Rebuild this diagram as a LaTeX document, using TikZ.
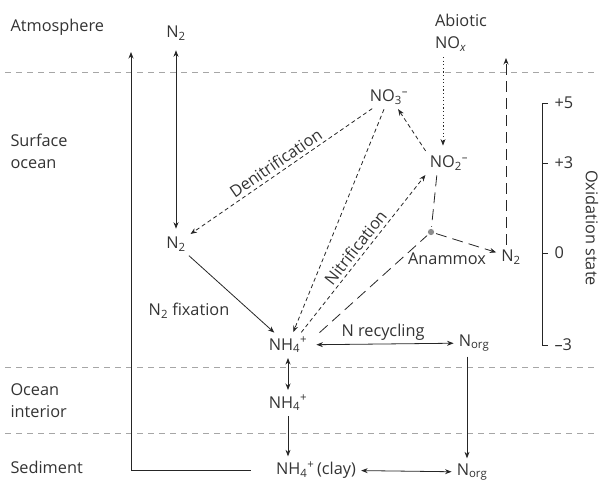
\documentclass[tikz,border=0pt]{standalone}
\usepackage{fontspec}
\setmainfont{Open Sans}
\usetikzlibrary{arrows.meta}
\definecolor{inkgray}{HTML}{333333}
\tikzset{x=1pt, y=-1pt, % one unit is one pixel of the layout, y grows downwards
every node/.style={ % Sets the properties for each text
text=inkgray,
font=\fontsize{16.3}{22}\selectfont},
species/.style={inner sep=3pt}, % chemical species
flux/.style={ % Sets the properties for each solid transfer
draw=black!85,
line width=0.8pt,
>={Stealth[length=6.5pt,width=5pt]},
shorten >=2pt, shorten <=2pt},
shortdash/.style={flux, dash pattern=on 4pt off 3pt},
longdash/.style={flux, dash pattern=on 11pt off 6pt},
dotflux/.style={flux, dash pattern=on 1.2pt off 2.4pt},
layer/.style={draw=black!35, line width=0.7pt, dash pattern=on 6pt off 5pt}}

\begin{document}
\begin{tikzpicture}
    \useasboundingbox (0,0) rectangle (601,483);
    % layer boundaries
    \foreach \y in {72,367,433} \draw[layer] (5,\y) -- (596,\y);
    \node[anchor=west] (atm) at (7,27) {Atmosphere};
    \node[anchor=west, align=left] (surf) at (7,151) {Surface\\ocean};
    \node[anchor=west, align=left] (inter) at (7,401) {Ocean\\interior};
    \node[anchor=west] (sed) at (7,467) {Sediment};
    % species
    \node[species] (n2atm) at (176,33) {N\textsubscript{2}};
    \node[species] (n2) at (176,244) {N\textsubscript{2}};
    \node[species] (nh4) at (288,345) {NH\textsubscript{4}\textsuperscript{+}};
    \node[species] (nh4int) at (288,403) {NH\textsubscript{4}\textsuperscript{+}};
    \node[species] (nh4clay) at (316,470) {NH\textsubscript{4}\textsuperscript{+}\,(clay)};
    \node[species] (norg) at (474,343) {N\textsubscript{org}};
    \node[species] (norgsed) at (472,472) {N\textsubscript{org}};
    \node[species] (no3) at (389,97) {NO\textsubscript{3}\textsuperscript{--}};
    \node[species] (no2) at (449,163) {NO\textsubscript{2}\textsuperscript{--}};
    \node[species] (n2r) at (511,257) {N\textsubscript{2}};
    \node[align=left] (abiotic) at (461,33) {Abiotic\\NO\textsubscript{\itshape x}};
    \node[circle, fill=black!45, inner sep=2.2pt] (amx) at (431,232) {};
    \node (amxlab) at (447,259) {Anammox};
    \node (fixlab) at (189,311) {N\textsubscript{2} fixation};
    \coordinate (atmup) at (131,50);
    \coordinate (n2up) at (506,56);
    % solid transfers
    \draw[flux, <->, shorten <=7pt, shorten >=5pt] (n2atm) -- (n2);
    \draw[flux, ->] (n2) -- (nh4);
    \draw[flux, <->] (nh4) -- (nh4int);
    \draw[flux, ->] (nh4int) -- (nh4int |- nh4clay.north);
    \draw[flux, <->] (nh4clay) -- (norgsed);
    \draw[flux, <->, shorten <=6pt] (nh4) -- node[above] {N recycling} (norg);
    \draw[flux, ->] ([xshift=-7pt]norg.south) -- ([xshift=-5pt]norgsed.north);
    \draw[flux, ->] ([xshift=-20pt]nh4clay.west) -| (atmup);
    % redox transfers
    \draw[shortdash, ->] (no3) -- node[sloped, above] {Denitrification} (n2);
    \draw[shortdash, ->] (no3) -- (nh4);
    \draw[shortdash, ->] ([xshift=12pt]nh4.north) -- node[sloped, above] {Nitrification} (no2.south west);
    \draw[shortdash, ->] (no2.north west) -- ([xshift=8pt]no3.south);
    \draw[dotflux, ->, shorten >=7pt] ([xshift=-18pt]abiotic.south) -- ([xshift=-6pt]no2.north);
    % anammox
    \draw[longdash] ([xshift=30pt]nh4.north) -- (amx);
    \draw[longdash] ([xshift=-12pt]no2.south) -- (amx);
    \draw[longdash, ->] (amx) -- (n2r);
    \draw[longdash, ->] ([xshift=-5pt]n2r.north) -- (n2up);
    % oxidation state scale
    \draw[draw=black!85, line width=0.8pt] (548,103) -- (542,103) -- (542,345) -- (548,345);
    \foreach \y in {163,253} \draw[draw=black!85, line width=0.8pt] (542,\y) -- (548,\y);
    \foreach \y/\lab in {103/+5,163/+3,253/0,345/--3}
      \node[anchor=west] (ox\y) at (551,\y) {\lab};
    \node[rotate=-90] (oxlab) at (592,228) {Oxidation state};
  \end{tikzpicture}
\end{document}
